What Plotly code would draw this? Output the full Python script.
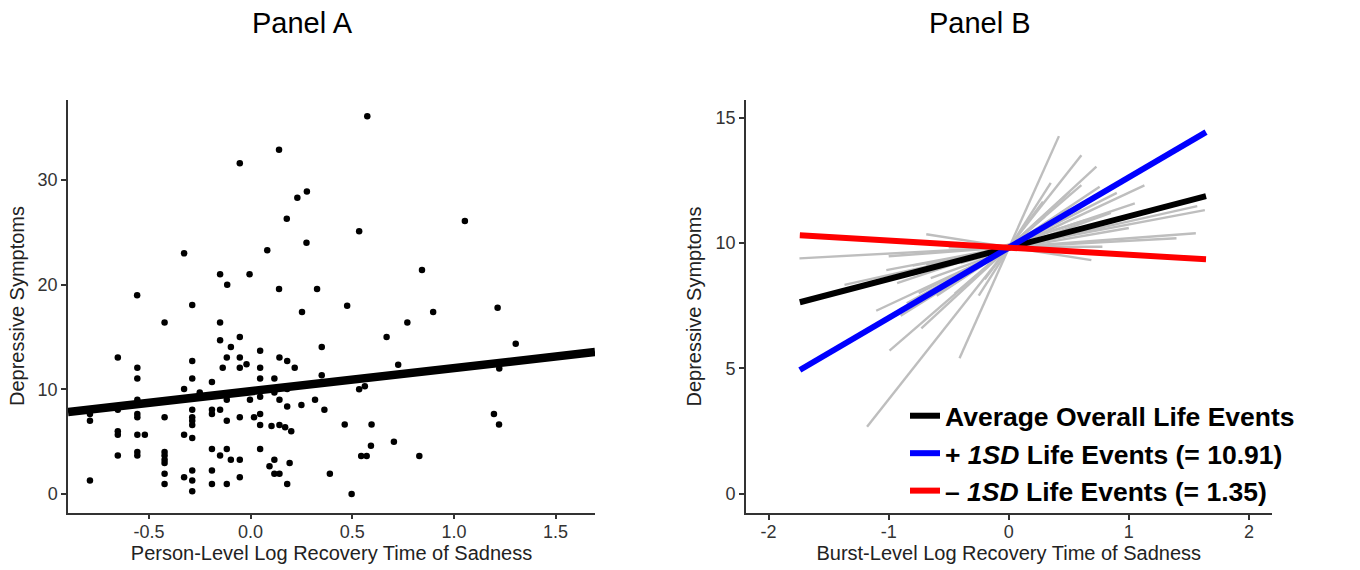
import plotly.graph_objects as go

# ---------------- Panel A data ----------------
a_x = [-0.287, 0.253, -0.423, -0.15, -0.15, -0.053, -0.097, 0.047, 0.35, -0.653,
       -0.117, -0.053, 0.142, 0.18, -0.287, -0.02, -0.557, -0.137, -0.053, 0.047,
       0.217, -0.557, -0.287, 0.047, 0.117, 0.35, -0.19, -0.327, -0.25, 0.18,
       0.117, -0.557, -0.117, -0.003, 0.047, 0.142, 0.317, -0.557, -0.79, -0.79,
       -0.653, -0.423, -0.557, -0.557, -0.287, -0.287, -0.287, -0.287, -0.19, -0.19,
       -0.15, -0.117, -0.053, 0.017, 0.047, 0.047, 0.18, 0.25, 0.363, 0.103,
       0.142, 0.17, 0.2, -0.653, -0.653, -0.557, -0.52, -0.327, -0.287, -0.653,
       -0.557, -0.557, -0.423, -0.423, -0.423, -0.423, -0.423, -0.423, -0.19, -0.117,
       -0.15, -0.097, -0.053, 0.047, 0.117, 0.192, 0.093, 0.117, 0.142, -0.79,
       -0.327, -0.287, -0.287, -0.287, -0.19, -0.19, -0.117, -0.053, 0.18, 0.39,
       0.14, -0.053, 0.277, 0.23, 0.178, 0.275, -0.327, 0.082, -0.15, -0.005,
       -0.115, 0.14, 0.327, -0.558,
       0.574, 0.534, 1.054, 0.843, 0.475, 1.215,
       0.898, 0.771, 0.669, 1.304, 0.726, 1.223, 1.571, 0.534, 0.562, 0.463,
       0.595, 1.197, 1.222, 0.592, 0.705, 0.544, 0.571, 0.830, 0.497]
a_y = [18.07, 17.4, 16.4, 16.4, 14.7, 15.0, 14.05, 13.7, 14.05, 13.05,
       13.05, 13.05, 13.05, 12.7, 12.7, 12.4, 12.06, 12.06, 12.06, 12.06,
       12.06, 11.03, 11.03, 11.03, 11.03, 11.35, 10.7, 10.03, 9.7, 10.03,
       9.7, 9.0, 9.0, 9.0, 9.3, 9.0, 9.0, 8.7, 7.0, 7.65,
       8.04, 7.33, 7.65, 7.33, 8.04, 7.33, 7.0, 6.6, 8.04, 7.65,
       8.04, 7.0, 7.33, 7.33, 7.65, 6.6, 8.36, 8.5, 8.04, 6.5,
       6.6, 6.37, 6.0, 6.0, 5.66, 5.66, 5.66, 5.66, 5.34, 3.67,
       4.0, 3.67, 4.0, 3.67, 3.28, 2.96, 1.93, 0.96, 4.3, 4.3,
       3.67, 3.28, 3.28, 4.3, 3.28, 2.96, 2.64, 1.93, 1.93, 1.29,
       1.6, 2.25, 1.29, 0.26, 2.25, 0.96, 0.96, 1.6, 0.96, 1.93,
       32.9, 31.6, 28.9, 28.3, 26.3, 24.0, 23.0, 23.3, 21.0, 21.0,
       20.0, 19.6, 19.6, 19.0,
       36.1, 25.1, 26.1, 21.4, 18.0, 17.8,
       17.4, 16.4, 15.0, 14.35, 12.35, 12.0, 13.3, 10.0, 10.3, 6.65,
       6.65, 7.64, 6.65, 4.61, 4.98, 3.63, 3.63, 3.63, 0.0]
a_fit_intercept = 9.82
a_fit_slope = 2.21
a_xrange = [-0.898, 1.694]
a_yrange = [-1.77, 37.7]
a_xticks = [-0.5, 0.0, 0.5, 1.0, 1.5]
a_xticklabels = ["-0.5", "0.0", "0.5", "1.0", "1.5"]
a_yticks = [0, 10, 20, 30]

# ---------------- Panel B data ----------------
gray_x0 = [-0.41, -1.18, -0.728, -0.993, -0.50, -1.104, -0.93, -1.368, -1.02, -1.0,
           -1.743, -0.687, -0.81, -0.687, -0.30, -0.20, -0.50, -0.45, -0.85, -0.60, -0.75,
           -0.55, -0.35, -0.65, -0.40, -0.80, -0.30, -0.25, -0.90]
gray_y0 = [5.41, 2.68, 6.60, 5.71, 8.24, 7.30, 8.40, 8.33, 8.92, 9.47,
           9.39, 10.35, 8.72, 9.12, 8.53, 8.55, 9.83, 7.98, 7.60, 7.90, 8.00,
           8.30, 8.90, 8.60, 9.20, 9.10, 9.50, 7.90, 7.10]
gray_x1 = [0.418, 0.605, 0.73, 0.30, 0.757, 1.13, 1.05, 1.57, 1.633, 1.558,
           1.397, 0.688, 0.647, 0.78, 0.507, 0.285, 0.78, 0.605, 0.60, 0.50, 0.90,
           0.45, 0.55, 0.85, 0.95, 1.00, 0.75, 0.35, 0.40]
gray_y1 = [14.26, 13.5, 13.04, 11.05, 12.24, 12.3, 11.58, 11.47, 11.31, 10.39,
           10.19, 9.32, 10.92, 10.60, 12.04, 11.65, 9.85, 12.31, 11.40, 11.40, 12.00,
           11.10, 11.40, 11.20, 11.00, 10.60, 10.70, 12.40, 11.00]

b_x_ends = [-1.74, 1.643]
b_avg_y = [7.64, 11.87]
b_plus_y = [4.94, 14.42]
b_minus_y = [10.31, 9.35]
b_xrange = [-2.19, 2.19]
b_yrange = [-0.76, 15.7]
b_xticks = [-2, -1, 0, 1, 2]
b_xticklabels = ["-2", "-1", "0", "1", "2"]
b_yticks = [0, 5, 10, 15]

legend_names = ["<b>Average Overall Life Events</b>",
                "<b>+ <i>1SD</i> Life Events (= 10.91)</b>",
                "<b>\u2013 <i>1SD</i> Life Events (= 1.35)</b>"]

FONT = "Liberation Sans, Arial, Helvetica, sans-serif"

fig = go.Figure()

# Panel A
fig.add_trace(go.Scatter(x=a_x, y=a_y, mode="markers",
                         marker=dict(color="black", size=6.5),
                         showlegend=False, xaxis="x", yaxis="y"))
fig.add_trace(go.Scatter(x=a_xrange,
                         y=[a_fit_intercept + a_fit_slope * v for v in a_xrange],
                         mode="lines", line=dict(color="black", width=8.5),
                         showlegend=False, xaxis="x", yaxis="y"))

# Panel B gray lines
gx, gy = [], []
for x0, y0, x1, y1 in zip(gray_x0, gray_y0, gray_x1, gray_y1):
    gx += [x0, x1, None]
    gy += [y0, y1, None]
fig.add_trace(go.Scatter(x=gx, y=gy, mode="lines",
                         line=dict(color="#BEBEBE", width=2.4),
                         showlegend=False, xaxis="x2", yaxis="y2"))

for i, (ys, col, name) in enumerate([(b_avg_y, "black", legend_names[0]),
                                     (b_plus_y, "#0000FF", legend_names[1]),
                                     (b_minus_y, "#FF0000", legend_names[2])]):
    fig.add_trace(go.Scatter(x=b_x_ends, y=ys, mode="lines",
                             line=dict(color=col, width=6),
                             name=name, legendgroup="g%d" % i,
                             xaxis="x2", yaxis="y2"))

axis_common = dict(showline=True, linecolor="#333333", linewidth=1.5,
                   ticks="outside", ticklen=5, tickwidth=1.5, tickcolor="#333333",
                   showgrid=False, zeroline=False, automargin=False,
                   tickfont=dict(family=FONT, size=18, color="#333333"))
title_font = dict(family=FONT, size=20, color="#222222")

fig.update_layout(
    template="none",
    width=1360, height=570,
    margin=dict(l=0, r=0, t=0, b=0),
    paper_bgcolor="white", plot_bgcolor="white",
    font=dict(family=FONT, color="black"),
    xaxis=dict(domain=[68 / 1360, 595 / 1360], range=a_xrange, anchor="y",
               tickvals=a_xticks, ticktext=a_xticklabels, ticklabelstandoff=-3,
               title=dict(text="Person-Level Log Recovery Time of Sadness",
                          font=title_font, standoff=4),
               **axis_common),
    yaxis=dict(domain=[57.5 / 570, 470.5 / 570], range=a_yrange, anchor="x",
               tickvals=a_yticks,
               title=dict(text="Depressive Symptoms", font=title_font, standoff=8),
               **axis_common),
    xaxis2=dict(domain=[745.8 / 1360, 1271.7 / 1360], range=b_xrange, anchor="y2",
                tickvals=b_xticks, ticktext=b_xticklabels, ticklabelstandoff=-3,
                title=dict(text="Burst-Level Log Recovery Time of Sadness",
                           font=title_font, standoff=4),
                **axis_common),
    yaxis2=dict(domain=[57 / 570, 470 / 570], range=b_yrange, anchor="x2",
                tickvals=b_yticks,
                title=dict(text="Depressive Symptoms", font=title_font, standoff=8),
                **axis_common),
    legend=dict(x=905 / 1360, y=1 - 392 / 570, xanchor="left", yanchor="top",
                bgcolor="rgba(0,0,0,0)", borderwidth=0,
                font=dict(family=FONT, size=26.5, color="black"),
                itemwidth=30, tracegroupgap=0, traceorder="grouped"),
    annotations=[
        dict(text="Panel A", x=302 / 1360, y=1 - 23 / 570, xref="paper", yref="paper",
             showarrow=False, xanchor="center", yanchor="middle",
             font=dict(family=FONT, size=29, color="black")),
        dict(text="Panel B", x=980 / 1360, y=1 - 23 / 570, xref="paper", yref="paper",
             showarrow=False, xanchor="center", yanchor="middle",
             font=dict(family=FONT, size=29, color="black")),
    ],
)

fig.write_html("out.html", config={"displayModeBar": False},
               post_script="document.body.style.margin='0';document.body.style.overflow='hidden';")
